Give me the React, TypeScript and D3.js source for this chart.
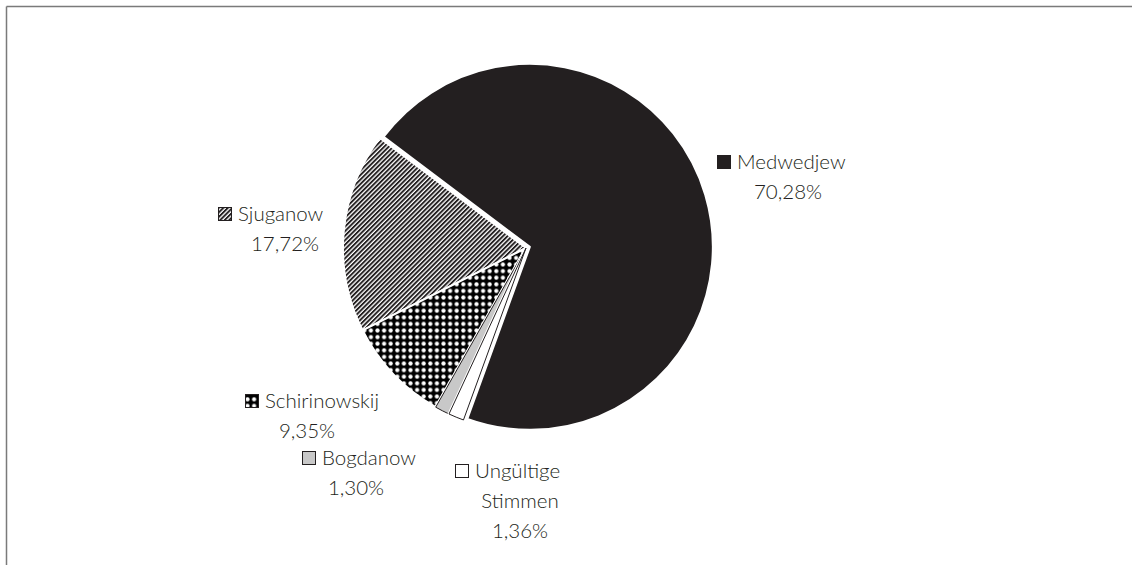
import React from "react";
import * as d3 from "d3";

const categories = ["Medwedjew", "Ungültige Stimmen", "Bogdanow", "Schirinowskij", "Sjuganow"];
const values = [70.28, 1.36, 1.3, 9.35, 17.72];
const labelLines = [["Medwedjew", "70,28%"], ["Ungültige", "Stimmen", "1,36%"], ["Bogdanow", "1,30%"], ["Schirinowskij", "9,35%"], ["Sjuganow", "17,72%"]];

// layout (not data)
const W = 1132, H = 565;
const cx = 526, cy = 248, R = 183;
const startDeg = -53;
const explode = [4, 0, 0, 0, 0];
const labelPos = [
  { x: 717, y: 169, cxText: 788 },
  { x: 455, y: 478, cxText: 520 },
  { x: 302, y: 465, cxText: 356 },
  { x: 245, y: 408, cxText: 307 },
  { x: 218, y: 221, cxText: 285 },
];
const fills = ["#231f20", "#ffffff", "#c8c8c8", "url(#dots)", "url(#stripes)"];
const lineGap = 30;
const ink = "#231f20";

export default function App() {
  const pie = d3.pie<number>().sort(null).startAngle((startDeg * Math.PI) / 180).endAngle((startDeg * Math.PI) / 180 + 2 * Math.PI);
  const arcs = pie(values);
  const arc = d3.arc<d3.PieArcDatum<number>>().innerRadius(0).outerRadius(R);
  const order = [0, 4, 3, 2, 1];
  return (
    <div style={{ position: "fixed", left: 0, top: 0, width: W, height: H, background: "#fff" }}>
      <svg width={W} height={H} style={{ display: "block" }}>
        <defs>
          <pattern id="stripes" patternUnits="userSpaceOnUse" width={3.2} height={3.2} patternTransform="rotate(45)">
            <rect width={3.2} height={3.2} fill="#fff" />
            <rect width={1.9} height={3.2} fill={ink} />
          </pattern>
          <pattern id="dots" patternUnits="userSpaceOnUse" width={6.6} height={6.6}>
            <rect width={6.6} height={6.6} fill="#000" />
            <circle cx={3.3} cy={3.3} r={2.1} fill="#fff" />
          </pattern>
        </defs>
        <line x1={6.5} y1={6.5} x2={W} y2={6.5} stroke="#7a7a7a" strokeWidth={1.5} />
        <line x1={6.5} y1={6.5} x2={6.5} y2={H} stroke="#7a7a7a" strokeWidth={1.5} />
        <g transform={`translate(${cx},${cy})`}>
          {order.map((i) => {
            const a = arcs[i];
            const mid = (a.startAngle + a.endAngle) / 2;
            const dx = Math.sin(mid) * explode[i];
            const dy = -Math.cos(mid) * explode[i];
            const small = i === 1 || i === 2;
            return (
              <g key={i} transform={`translate(${dx},${dy})`}>
                <path d={arc(a) || ""} fill={fills[i]} stroke="#fff" strokeWidth={small ? 3 : 2} strokeLinejoin="round" />
                {small && <path d={arc(a) || ""} fill={fills[i]} stroke={ink} strokeWidth={1} strokeLinejoin="round" />}
              </g>
            );
          })}
        </g>
        <g fontFamily="Lato, 'Open Sans', sans-serif" fontSize={20.5} fontWeight={300} fill={ink}>
          {categories.map((c, i) => {
            const p = labelPos[i];
            const lines = labelLines[i];
            return (
              <g key={c}>
                <rect x={p.x + 0.5} y={p.y - 13.5} width={13} height={13} fill={fills[i]} stroke={ink} strokeWidth={1} />
                <text x={p.x + 20} y={p.y}>{lines[0]}</text>
                {lines.slice(1).map((l, k) => (
                  <text key={k} x={p.cxText} y={p.y + lineGap * (k + 1)} textAnchor="middle">{l}</text>
                ))}
              </g>
            );
          })}
        </g>
      </svg>
    </div>
  );
}
